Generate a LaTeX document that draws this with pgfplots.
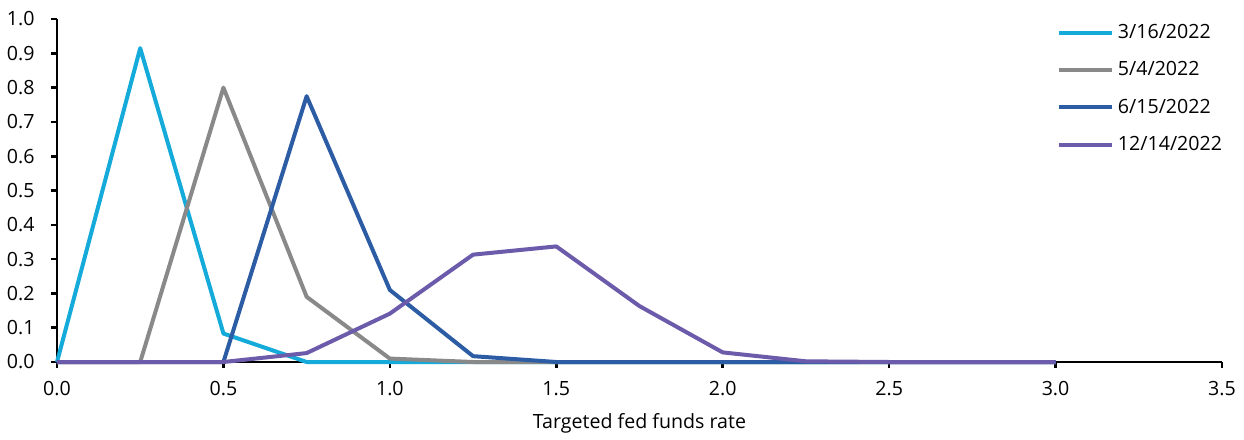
\documentclass[border=0pt]{standalone}
\usepackage{fontspec}
\setmainfont{Open Sans}
\usepackage{pgfplots}
\pgfplotsset{compat=1.18}

\definecolor{cMar}{RGB}{20,170,218}
\definecolor{cMay}{RGB}{137,137,137}
\definecolor{cJun}{RGB}{44,92,164}
\definecolor{cDec}{RGB}{108,90,170}

\begin{document}
\begin{tikzpicture}
\begin{axis}[
  scale only axis,
  width=582.5pt, height=171.5pt,
  at={(0,0)}, anchor=south west,
  xmin=0, xmax=3.5, ymin=0, ymax=1.0,
  xtick={0,0.5,...,3.5},
  ytick={0,0.1,...,1.0},
  axis x line*=bottom, axis y line*=left,
  axis line style={black, line width=1.3pt, -},
  tick style={black, line width=1.3pt},
  tick align=outside,
  major tick length=3pt,
  minor tick num=0,
  font=\fontsize{9.8}{11}\selectfont,
  ticklabel style={font=\fontsize{9.8}{11}\selectfont, inner sep=0pt,
    /pgf/number format/fixed, /pgf/number format/fixed zerofill,
    /pgf/number format/precision=1, /pgf/number format/assume math mode=true},
  yticklabel style={anchor=east, xshift=-8pt},
  xticklabel style={anchor=base, yshift=-13.5pt},
  xlabel={Targeted fed funds rate},
  xlabel style={font=\fontsize{9.8}{11}\selectfont, at={(axis description cs:0.5,0)},
    anchor=base, yshift=-33pt},
  legend style={draw=none, fill=none, at={(0.858,0.997)}, anchor=north west,
    font=\fontsize{9.8}{11}\selectfont, inner sep=0pt,
    /tikz/every even column/.append style={column sep=0pt},
    row sep=6pt},
  legend cell align=left,
  legend image code/.code={\draw[#1, line width=2pt] (0pt,0pt) -- (26.5pt,0pt);},
  every axis plot/.append style={line width=2pt, line join=round, mark=none},
  clip=false,
]
\addplot[cMar] coordinates {(0,0) (0.25,0.915) (0.5,0.083) (0.75,0) (1.0,0) (1.25,0) (1.5,0) (1.75,0) (2.0,0) (2.25,0) (2.5,0) (2.75,0) (3.0,0)};
\addlegendentry{3/16/2022}
\addplot[cMay] coordinates {(0,0) (0.25,0) (0.5,0.80) (0.75,0.19) (1.0,0.01) (1.25,0) (1.5,0) (1.75,0) (2.0,0) (2.25,0) (2.5,0) (2.75,0) (3.0,0)};
\addlegendentry{5/4/2022}
\addplot[cJun] coordinates {(0,0) (0.25,0) (0.5,0) (0.75,0.775) (1.0,0.21) (1.25,0.017) (1.5,0) (1.75,0) (2.0,0) (2.25,0) (2.5,0) (2.75,0) (3.0,0)};
\addlegendentry{6/15/2022}
\addplot[cDec] coordinates {(0,0) (0.25,0) (0.5,0) (0.75,0.026) (1.0,0.141) (1.25,0.313) (1.5,0.337) (1.75,0.163) (2.0,0.028) (2.25,0.002) (2.5,0) (2.75,0) (3.0,0)};
\addlegendentry{12/14/2022}
\end{axis}
\path[use as bounding box] (-28.5pt,-36pt) rectangle (593.5pt,181pt);
\end{tikzpicture}
\end{document}
